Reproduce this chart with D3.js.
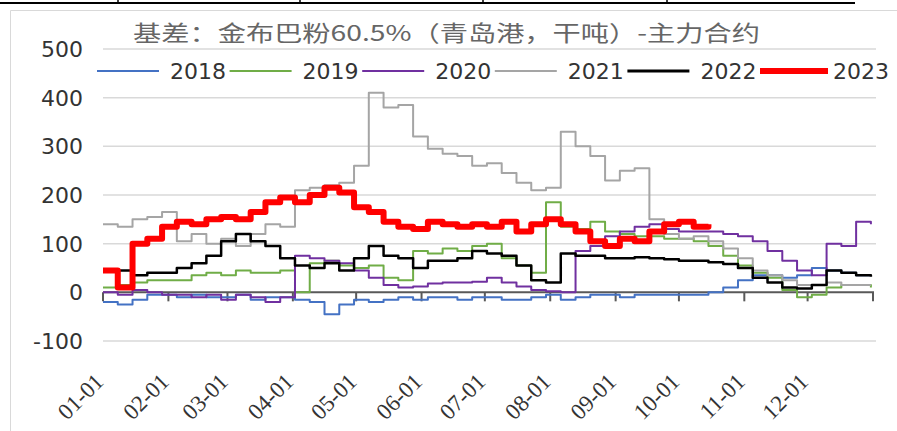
<!DOCTYPE html>
<html>
<head>
<meta charset="utf-8">
<script src="https://cdn.jsdelivr.net/npm/d3@7"></script>
<style>
    body { margin: 0; background: #fff; }
    svg { display: block; }
</style>
</head>
<body>
<div id="chart"></div>
<script>
// weekly samples from 01-01
const years = ['2018', '2019', '2020', '2021', '2022', '2023'];
const colors = ['#4472c4', '#70ad47', '#7030a0', '#a5a5a5', '#000000', '#ff0000'];
const widths = [2, 2, 2, 2, 2.5, 6];
const yTicks = [-100, 0, 100, 200, 300, 400, 500];

const s2018 = [-20, -25, -15, -5, -5, -10, -5, -10, -10, -5, -15, -10, -10, -15, -20, -45, -25, -15, -20, -15,
    -10, -15, -10, -10, -15, -10, -10, -15, -15, -10, -5, -15, -10, -5, -5, -10, -5, -5, -5, -5,
    -5, 0, 10, 25, 35, 35, 30, 35, 50, 45, 40, 35, 35];
const s2019 = [10, 15, 20, 25, 25, 25, 35, 40, 35, 45, 40, 40, 45, 0, 60, 65, 55, 50, 55, 30,
    25, 85, 80, 90, 85, 95, 100, 70, 55, 40, 185, 135, 130, 145, 125, 120, 115, 115, 110, 110,
    105, 95, 75, 55, 40, 30, 5, -10, -5, 10, 15, 15, 10];
const s2020 = [0, -5, 5, 0, -5, -5, -10, -5, -15, -5, -10, -20, -10, 75, 70, 65, 60, 45, 30, 15,
    10, 12, 18, 20, 20, 22, 30, 20, 12, 5, 2, 0, 85, 95, 115, 125, 135, 140, 130, 125,
    125, 125, 120, 115, 105, 85, 65, 45, 35, 100, 95, 145, 140];
const s2021 = [140, 135, 150, 155, 165, 105, 120, 100, 110, 95, 120, 140, 135, 210, 215, 220, 225, 260, 410, 380,
    385, 320, 295, 285, 280, 260, 265, 245, 225, 210, 215, 330, 300, 280, 230, 250, 255, 150, 120, 110,
    115, 105, 90, 70, 45, 35, 25, 15, 15, 20, 15, 15, 15];
const s2022 = [45, 45, 35, 40, 40, 50, 60, 75, 105, 120, 105, 95, 70, 55, 50, 60, 45, 70, 95, 75,
    70, 50, 65, 65, 70, 85, 80, 75, 55, 25, 20, 80, 75, 75, 70, 70, 72, 70, 68, 65,
    65, 62, 58, 50, 30, 20, 10, 8, 15, 45, 40, 35, 32];
const s2023 = [45, 10, 100, 110, 135, 145, 140, 150, 155, 150, 165, 185, 195, 185, 200, 215, 205, 175, 165, 145,
    135, 130, 145, 140, 135, 140, 135, 145, 125, 140, 150, 140, 125, 105, 95, 110, 105, 125, 140, 145,
    135, 140];

const seriesValues = [s2018, s2019, s2020, s2021, s2022, s2023];

const width = 897;
const height = 431;

const svg = d3.select('#chart').append('svg')
    .attr('width', width)
    .attr('height', height);

// page artefacts: table rule on top, chart frame
svg.append('line')
    .attr('x1', 0).attr('x2', 855).attr('y1', 3).attr('y2', 3)
    .attr('stroke', '#000').attr('stroke-width', 2);
[118, 300, 483, 667].forEach((x) => {
    svg.append('line')
        .attr('x1', x).attr('x2', x).attr('y1', 0).attr('y2', 4)
        .attr('stroke', '#000').attr('stroke-width', 1.5);
});
svg.append('path')
    .attr('d', 'M10.5,' + height + 'V10.5H' + width)
    .attr('fill', 'none')
    .attr('stroke', '#d9d9d9');

const x = d3.scaleTime()
    .domain([new Date(2023, 0, 1), new Date(2024, 0, 1)])
    .range([103, 873]);

const y = d3.scaleLinear()
    .domain([-100, 500])
    .range([341, 49]);

const day = (i) => d3.timeDay.offset(new Date(2023, 0, 1), i * 7);

// gridlines
svg.append('g')
    .selectAll('line')
    .data(yTicks.filter((d) => d !== 0))
    .enter()
    .append('line')
    .attr('x1', 103)
    .attr('x2', 876)
    .attr('y1', (d) => y(d))
    .attr('y2', (d) => y(d))
    .attr('stroke', '#d9d9d9')
    .attr('stroke-width', 1.5);

// y labels
svg.append('g')
    .selectAll('text')
    .data(yTicks)
    .enter()
    .append('text')
    .attr('x', 83)
    .attr('y', (d) => y(d) + 8)
    .attr('text-anchor', 'end')
    .attr('font-family', 'DejaVu Sans')
    .attr('font-size', '22px')
    .attr('fill', '#333')
    .text((d) => d);

// x axis on zero line
const months = d3.timeMonth.range(new Date(2023, 0, 1), new Date(2024, 0, 2));
const xAxis = svg.append('g').attr('transform', 'translate(0,' + y(0) + ')');
xAxis.append('line')
    .attr('x1', 103).attr('x2', 874)
    .attr('stroke', '#595959').attr('stroke-width', 2);
xAxis.selectAll('.tick')
    .data(months)
    .enter()
    .append('line')
    .attr('class', 'tick')
    .attr('x1', (d) => x(d)).attr('x2', (d) => x(d))
    .attr('y1', 0).attr('y2', 9)
    .attr('stroke', '#595959').attr('stroke-width', 2);

svg.append('g')
    .selectAll('text')
    .data(months.slice(0, 12))
    .enter()
    .append('text')
    .attr('transform', (d) => 'translate(' + (x(d) + 2) + ',383) rotate(-45)')
    .attr('text-anchor', 'end')
    .attr('font-family', 'Liberation Serif')
    .attr('font-size', '23px')
    .attr('fill', '#333')
    .text(d3.timeFormat('%m-%d'));

// series
const line = d3.line()
    .defined((d) => d.v != null)
    .x((d) => x(d.date))
    .y((d) => y(d.v))
    .curve(d3.curveStepAfter);

seriesValues.forEach((vals, k) => {
    const pts = vals.map((v, i) => ({ date: day(i), v: v }));
    svg.append('path')
        .datum(pts)
        .attr('d', line)
        .attr('fill', 'none')
        .attr('stroke', colors[k])
        .attr('stroke-width', widths[k])
        .attr('stroke-linejoin', 'round');
});

// title
svg.append('text')
    .attr('x', 133)
    .attr('y', 41)
    .attr('textLength', 627)
    .attr('lengthAdjust', 'spacingAndGlyphs')
    .attr('font-family', 'Noto Sans CJK SC')
    .attr('font-size', '22px')
    .attr('fill', '#666')
    .text('基差：金布巴粉60.5%（青岛港，干吨）-主力合约');

// legend
const legend = svg.append('g')
    .selectAll('g')
    .data(years)
    .enter()
    .append('g')
    .attr('transform', (d, i) => 'translate(' + (97 + i * 132.6) + ',71)');

legend.append('line')
    .attr('x1', 0)
    .attr('x2', (d, i) => i === 5 ? 68 : 62)
    .attr('stroke', (d, i) => colors[i])
    .attr('stroke-width', (d, i) => i === 5 ? 6 : (i === 4 ? 3 : 2));

legend.append('text')
    .attr('x', 73)
    .attr('y', 8)
    .attr('font-family', 'DejaVu Sans')
    .attr('font-size', '22px')
    .attr('fill', '#333')
    .text((d) => d);
</script>
</body>
</html>
